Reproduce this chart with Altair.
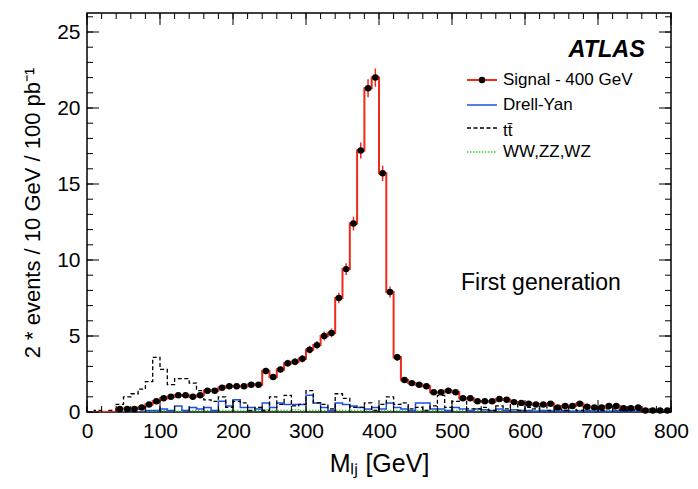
import altair as alt
import pandas as pd

# ---------------- data (10 GeV bins, left edges 0..790) ----------------
x_edges = list(range(0, 800, 10))

signal = [0, 0, 0, 0, 0.2, 0.2, 0.2, 0.3, 0.5, 0.7,
          0.9, 1.0, 1.1, 1.1, 1.0, 1.1, 1.4, 1.4, 1.6, 1.7,
          1.7, 1.7, 1.8, 1.8, 2.7, 2.3, 2.8, 3.2, 3.3, 3.5,
          4.1, 4.4, 5.0, 5.2, 7.5, 9.4, 12.4, 17.2, 21.3, 22.0,
          15.7, 7.9, 3.6, 2.1, 1.9, 1.8, 1.7, 1.3, 1.3, 1.4,
          1.3, 0.9, 0.9, 0.7, 0.7, 0.7, 0.85, 0.8, 0.65, 0.6,
          0.55, 0.5, 0.5, 0.55, 0.3, 0.4, 0.4, 0.55, 0.35, 0.3,
          0.3, 0.4, 0.4, 0.25, 0.25, 0.3, 0.1, 0.1, 0.1, 0.1]

signal_err = [0, 0, 0, 0, 0.06, 0.06, 0.06, 0.07, 0.09, 0.11,
              0.12, 0.13, 0.13, 0.13, 0.13, 0.13, 0.15, 0.15, 0.16, 0.17,
              0.17, 0.17, 0.17, 0.17, 0.21, 0.2, 0.21, 0.23, 0.23, 0.24,
              0.26, 0.27, 0.29, 0.29, 0.35, 0.39, 0.45, 0.53, 0.59, 0.6,
              0.51, 0.36, 0.24, 0.19, 0.18, 0.17, 0.17, 0.15, 0.15, 0.15,
              0.15, 0.12, 0.12, 0.11, 0.11, 0.11, 0.12, 0.12, 0.1, 0.1,
              0.1, 0.09, 0.09, 0.1, 0.07, 0.08, 0.08, 0.1, 0.08, 0.07,
              0.07, 0.08, 0.08, 0.07, 0.07, 0.07, 0.04, 0.04, 0.04, 0.04]

drell_yan = [0, 0, 0, 0, 0, 0, 0, 0, 0.1, 0.1,
             0.2, 0.1, 0.4, 0.1, 0.3, 0.2, 0.3, 0.1, 0.7, 0.4,
             0.8, 0.3, 0.3, 0.2, 0.6, 0.3, 0.6, 0.5, 0.5, 0.5,
             1.1, 0.6, 0.3, 0.1, 0.6, 0.5, 0.4, 0.3, 0.2, 0.3,
             0.2, 0.6, 0.3, 0.2, 0.1, 0.6, 0.6, 0.2, 0.2, 0.1,
             0.3, 0.2, 0.1, 0.2, 0.15, 0.1, 0.2, 0.1, 0.15, 0.1,
             0.1, 0.05, 0.1, 0.05, 0.05, 0.1, 0.05, 0.05, 0.1, 0.05,
             0.05, 0.05, 0.1, 0.05, 0.05, 0.05, 0.1, 0.05, 0.05, 0.05]

ttbar = [0, 0.1, 0, 0.1, 0.5, 1.0, 1.2, 1.5, 2.0, 3.6,
         2.8, 1.8, 2.2, 2.2, 1.9, 1.4, 0.8, 0.7, 1.0, 0.3,
         0.7, 0.6, 0.1, 0.3, 0.1, 1.0, 0.5, 1.1, 0.4, 0.5,
         1.4, 0.6, 0.5, 0.2, 1.2, 0.9, 0.3, 0.3, 0.6, 0.1,
         0.5, 1.0, 0.5, 0.6, 0.2, 0.3, 0.1, 0.4, 1.1, 0.3,
         0.7, 0.8, 0.2, 0.2, 0.3, 0.1, 0.4, 0.2, 0.6, 0.1,
         0.3, 0.2, 0.5, 0.1, 0.2, 0.1, 0.4, 0.1, 0.2, 0.3,
         0.1, 0.2, 0.2, 0.1, 0.3, 0.1, 0.2, 0.1, 0.2, 0.1]

diboson = [0, 0, 0, 0, 0, 0, 0, 0, 0, 0.05,
           0.1, 0.1, 0.05, 0.1, 0.1, 0.1, 0.1, 0.1, 0.1, 0.1,
           0.1, 0.1, 0.1, 0.1, 0.15, 0.1, 0.1, 0.1, 0.15, 0.1,
           0.1, 0.1, 0.1, 0.1, 0.1, 0.1, 0.1, 0.1, 0.1, 0.1,
           0.1, 0.1, 0.1, 0.1, 0.1, 0.1, 0.1, 0.1, 0.1, 0.1,
           0.1, 0.1, 0.1, 0.1, 0.1, 0.1, 0.1, 0.1, 0.1, 0.1,
           0.1, 0.1, 0.1, 0.1, 0.1, 0.1, 0.1, 0.1, 0.1, 0.1,
           0.1, 0.1, 0.1, 0.1, 0.1, 0.1, 0.1, 0.1, 0.1, 0.1]

x_major = list(range(0, 801, 100))
x_minor = list(range(0, 801, 20))
y_major = [0, 5, 10, 15, 20, 25]
y_minor = list(range(0, 27))

X_MAX = 800
Y_MAX = 26.25
W, H = 584, 399
FONT = "Liberation Sans"

xs = alt.Scale(domain=[0, X_MAX], nice=False, zero=False)
ys = alt.Scale(domain=[0, Y_MAX], nice=False)


def step_df(vals):
    return pd.DataFrame({"x": x_edges + [X_MAX], "y": vals + [vals[-1]]})


def step_chart(vals, color, width, dash=None):
    kw = dict(interpolate="step-after", color=color, strokeWidth=width, clip=True)
    if dash:
        kw["strokeDash"] = dash
    return alt.Chart(step_df(vals)).mark_line(**kw).encode(
        x=alt.X("x:Q", scale=xs, axis=alt.Axis(
            values=x_major, title="Mₗⱼ [GeV]", ticks=False, domain=False, grid=False,
            labelFontSize=21, labelPadding=8, titleFontSize=25, titlePadding=10,
            labelFont=FONT, titleFont=FONT, titleFontWeight="normal", labelColor="black",
            titleColor="black", labelFlush=False)),
        y=alt.Y("y:Q", scale=ys, axis=alt.Axis(
            values=y_major, title="2 * events / 10 GeV / 100 pb⁻¹", ticks=False, domain=False,
            grid=False, labelFontSize=21, labelPadding=7, titleFontSize=22, titlePadding=12,
            labelFont=FONT, titleFont=FONT, titleFontWeight="normal", labelColor="black",
            titleColor="black", labelFlush=False)),
    )


green = step_chart(diboson, "#33dd22", 1.5, [1.5, 1.5])
blue = step_chart(drell_yan, "#1f4fe0", 1.5)
dashed = step_chart(ttbar, "black", 1.3, [4, 2.5])
red = step_chart(signal, "#ee2a1a", 2)

pts = pd.DataFrame({
    "lo": [e for e, v in zip(x_edges, signal) if v > 0],
    "hi": [e + 10 for e, v in zip(x_edges, signal) if v > 0],
    "c": [e + 5 for e, v in zip(x_edges, signal) if v > 0],
    "v": [v for v in signal if v > 0],
    "elo": [v - er for v, er in zip(signal, signal_err) if v > 0],
    "ehi": [v + er for v, er in zip(signal, signal_err) if v > 0],
})

hbars = alt.Chart(pts).mark_rule(color="black", strokeWidth=2.5).encode(
    x=alt.X("lo:Q", scale=xs), x2="hi:Q", y=alt.Y("v:Q", scale=ys))
errs = alt.Chart(pts).mark_rule(color="#ee2a1a", strokeWidth=1.5).encode(
    x=alt.X("c:Q", scale=xs), y=alt.Y("elo:Q", scale=ys), y2="ehi:Q")
dots = alt.Chart(pts).mark_point(filled=True, shape="circle", size=42, color="black", opacity=1).encode(
    x=alt.X("c:Q", scale=xs), y=alt.Y("v:Q", scale=ys))

# ---------------- ROOT-style inward ticks ----------------
def xticks(vals, length):
    df = pd.DataFrame({"t": vals})
    bot = alt.Chart(df).mark_rule(color="black", strokeWidth=1).encode(
        x=alt.X("t:Q", scale=xs), y=alt.value(H), y2=alt.value(H - length))
    top = alt.Chart(df).mark_rule(color="black", strokeWidth=1).encode(
        x=alt.X("t:Q", scale=xs), y=alt.value(0), y2=alt.value(length))
    return bot + top


def yticks(vals, length):
    df = pd.DataFrame({"t": vals})
    left = alt.Chart(df).mark_rule(color="black", strokeWidth=1).encode(
        y=alt.Y("t:Q", scale=ys), x=alt.value(0), x2=alt.value(length))
    right = alt.Chart(df).mark_rule(color="black", strokeWidth=1).encode(
        y=alt.Y("t:Q", scale=ys), x=alt.value(W), x2=alt.value(W - length))
    return left + right


ticks = xticks(x_major, 12) + xticks(x_minor, 6) + yticks(y_major, 12) + yticks(y_minor, 6)

# ---------------- annotations and legend ----------------
one = pd.DataFrame({"a": [0]})


def text(s, x, y, size, **kw):
    return alt.Chart(one).mark_text(text=s, font=FONT, fontSize=size, color="black",
                                    baseline="middle", **kw).encode(
        x=alt.value(x), y=alt.value(y))


def leg_line(y, color, width, dash=None):
    kw = dict(color=color, strokeWidth=width)
    if dash:
        kw["strokeDash"] = dash
    return alt.Chart(one).mark_rule(**kw).encode(
        x=alt.value(380), x2=alt.value(410), y=alt.value(y))


atlas = text("ATLAS", 558, 37, 23.5, align="right", fontWeight="bold", fontStyle="italic")
firstgen = text("First generation", 374, 270, 23, align="left")

LS = 17
legend = (
    leg_line(67, "#ee2a1a", 2)
    + alt.Chart(one).mark_point(filled=True, shape="circle", size=42, color="black", opacity=1).encode(
        x=alt.value(395), y=alt.value(67))
    + text("Signal - 400 GeV", 416, 67, LS, align="left")
    + leg_line(92, "#1f4fe0", 1.5)
    + text("Drell-Yan", 416, 92, LS, align="left")
    + leg_line(115, "black", 1.3, [4, 2.5])
    + text("tt\u0304", 416, 118, LS, align="left")
    + leg_line(139, "#33dd22", 1.5, [1.5, 1.5])
    + text("WW,ZZ,WZ", 416, 139, LS, align="left")
)

chart = alt.layer(
    green, blue, dashed, hbars, red, errs, dots, ticks, atlas, firstgen, legend
).properties(
    width=W, height=H,
    autosize=alt.AutoSizeParams(type="none"),
    padding={"left": 87, "top": 13, "right": 27, "bottom": 77},
    background="white",
).configure_view(stroke="black", strokeWidth=1.5)

chart.save("out.html", embed_options={"renderer": "svg", "actions": False})
